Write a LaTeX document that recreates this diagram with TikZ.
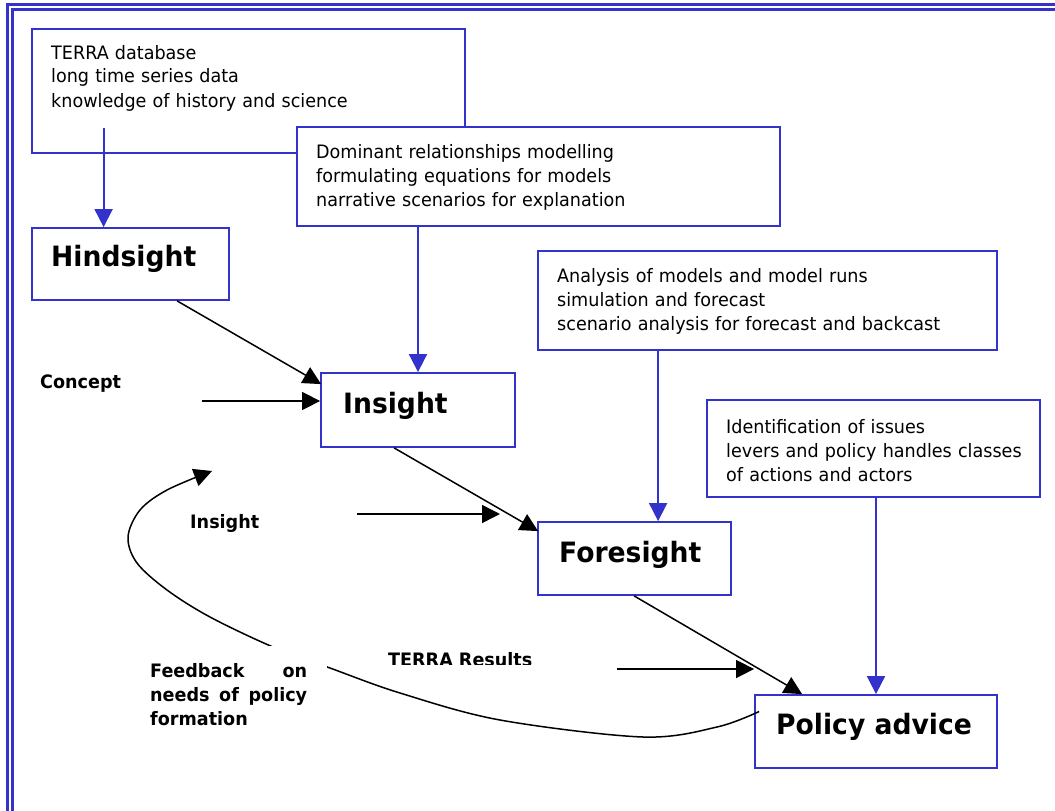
\documentclass[tikz,border=0pt]{standalone}
\usepackage{fontspec}
\setmainfont[FakeStretch=0.95]{DejaVu Sans}
\usetikzlibrary{arrows.meta,calc}
\definecolor{bblue}{RGB}{51,51,204}
\tikzset{
  box/.style={draw=bblue, line width=1.8pt, fill=white, inner sep=0pt, rectangle},
  txt/.style={inner sep=0pt, anchor=base west, align=left, text width=#1, font=\fontsize{18.5}{24}\selectfont},
  ttl/.style={inner sep=0pt, anchor=base west, font=\bfseries\fontsize{28}{32}\selectfont},
  lbl/.style={inner sep=0pt, anchor=base west, font=\bfseries\fontsize{18.5}{24}\selectfont},
  arr/.style={-{Triangle[length=18pt,width=18pt]}, line width=1.5pt, black},
  barr/.style={-{Triangle[length=18pt,width=18pt]}, line width=1.8pt, bblue},
  frame/.style={bblue, line width=2.5pt}
}
\begin{document}
\begin{tikzpicture}[x=1pt,y=-1pt]
\useasboundingbox (0,0) rectangle (1055,811);
% outer double frame
\draw[frame] (7.5,811) -- (7.5,4.5) -- (1055,4.5);
\draw[frame] (12.5,811) -- (12.5,9.5) -- (1055,9.5);

% boxes
\node[box, minimum width=433pt, minimum height=124pt] (terra) at (248.5,91) {};
\node[txt=400pt] (terratxt) at (51,59) {TERRA database\\long time series data\\knowledge of history and science};
\node[box, minimum width=483pt, minimum height=99pt] (dom) at (538.5,176.5) {};
\node[txt=460pt] (domtxt) at (316,158) {Dominant relationships modelling\\formulating equations for models\\narrative scenarios for explanation};
\node[box, minimum width=197pt, minimum height=72pt] (hind) at (130.5,264) {};
\node[ttl] (hindtxt) at (51,266) {Hindsight};
\node[box, minimum width=194pt, minimum height=74pt] (ins) at (418,410) {};
\node[ttl] (instxt) at (343,413) {Insight};
\node[box, minimum width=459pt, minimum height=99pt] (ana) at (767.5,300.5) {};
\node[txt=430pt] (anatxt) at (557,282) {Analysis of models and model runs\\simulation and forecast\\scenario analysis for forecast and backcast};
\node[box, minimum width=333pt, minimum height=97pt] (ide) at (873.5,448.5) {};
\node[txt=320pt] (idetxt) at (726,433) {Identification of issues\\levers and policy handles classes\\of actions and actors};
\node[box, minimum width=193pt, minimum height=73pt] (fore) at (634.5,558.5) {};
\node[ttl] (foretxt) at (559,562) {Foresight};
\node[box, minimum width=242pt, minimum height=73pt] (pol) at (876,731.5) {};
\node[ttl] (poltxt) at (776,734) {Policy advice};

% blue arrows
\draw[barr] ($(terra.south west)+(72.5,-26)$) -- ($(hind.north west)+(72.5,0)$);
\draw[barr] (ins.north |- dom.south) -- (ins.north);
\coordinate (anaout) at ($(ana.south west)+(121,0)$);
\draw[barr] (anaout) -- (anaout |- fore.north);
\draw[barr] (pol.north |- ide.south) -- (pol.north);

% black arrows between boxes
\draw[arr] ($(hind.south west)+(146,0)$) -- ($(ins.north west)+(1,12)$);
\draw[arr] ($(ins.south west)+(74,0)$) -- ($(fore.north west)+(1,10)$);
\draw[arr] ($(fore.south west)+(97,0)$) -- ($(pol.north west)+(48,0)$);

% side labels with arrows
\node[lbl] (concept) at (40,388) {Concept};
\coordinate (cs) at (202,401);
\draw[arr] (cs) -- (cs -| ins.west);
\node[lbl] (inslbl) at (190,528) {Insight};
\coordinate (is) at (357,514);
\coordinate (ie) at (500,514);
\draw[arr] (is) -- (ie);
\begin{scope}
\clip (380,640) rectangle (620,664);
\node[lbl] (reslbl) at (388,666) {TERRA Results};
\end{scope}
\coordinate (rs) at (617,669);
\draw[arr] (rs) -- (rs -| pol.west);

% feedback curve
\coordinate (fbstart) at ($(pol.west)+(5,-20)$);
\coordinate (fbend) at (212,471);
\draw[arr] plot[smooth, tension=0.55] coordinates {(fbstart) (717,727) (643,737) (500,720) (400,693) (330,668) (273,647) (210,617) (167,590) (137,563) (128,537) (140,510) (167,490) (fbend)};
\node[lbl, fill=white, inner xsep=20pt, inner ysep=17pt, text width=157pt, align=left] (fb) at (130,677) {Feedback\hfill on\\needs\hfill of\hfill policy\\formation};
\end{tikzpicture}
\end{document}
